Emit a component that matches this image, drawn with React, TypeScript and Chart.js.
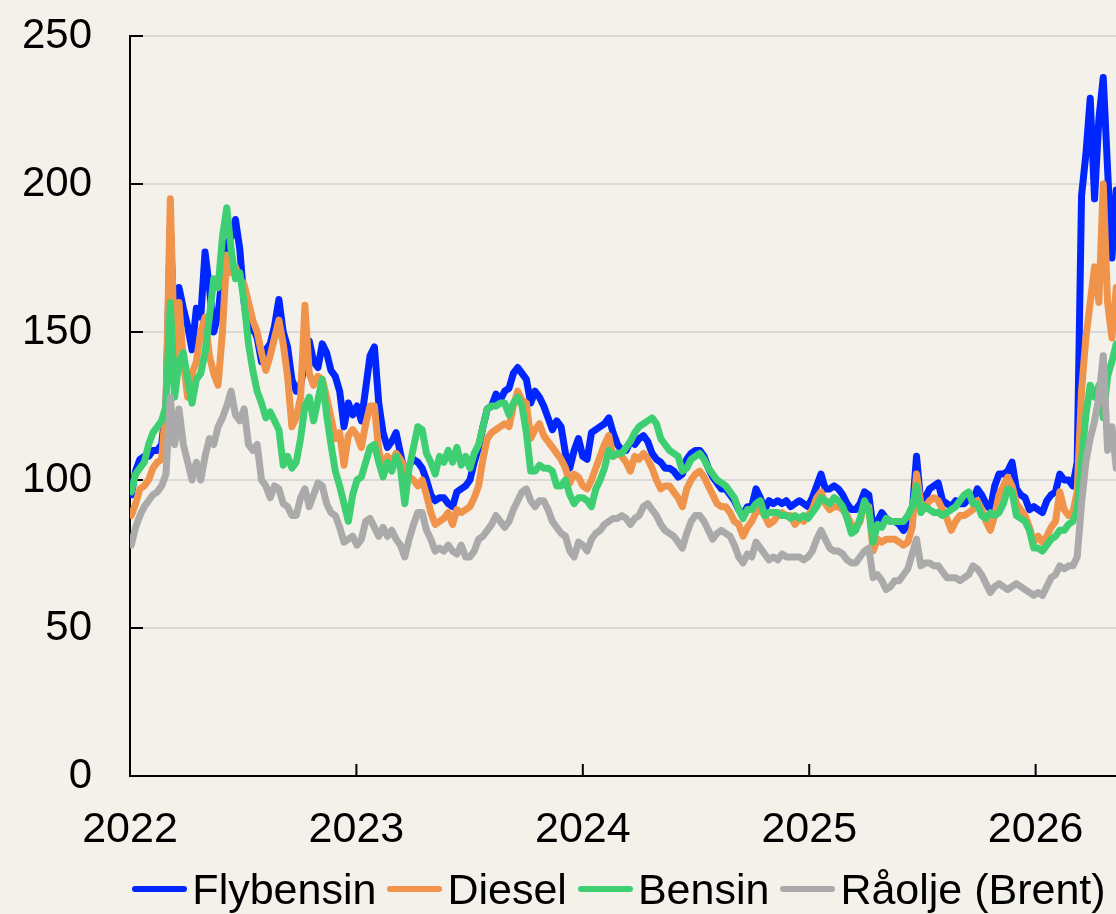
import React, { useEffect, useRef } from "react";
import { Chart, registerables } from "chart.js";

Chart.register(...registerables);

// Weekly observations, first week starting 2022-01-03
const startDate = "2022-01-03";
const yearTicks = [2022, 2023, 2024, 2025, 2026];
const yTicks = [0, 50, 100, 150, 200, 250];
const xMin = 2022;
const xMax = 2026.355;
const seriesNames = ["Flybensin", "Diesel", "Bensin", "Råolje (Brent)"];
const seriesColors = ["#0026ff", "#f0934b", "#3ecf72", "#aaaaaa"];

const flybensin = [
  95, 103, 107, 108, 108, 110, 110, 112, 125, 185,
  148, 165, 158, 152, 144, 158, 155, 177, 165, 150,
  156, 170, 180, 182, 188, 178, 160, 150, 152, 148,
  140, 144, 146, 152, 161, 150, 145, 134, 130, 132,
  140, 147, 140, 138, 146, 143, 137, 135, 130, 118,
  126, 122, 125, 120, 131, 142, 145, 126, 116, 111,
  113, 116, 109, 102, 105, 107, 106, 104, 100, 95,
  93, 94, 94, 92, 91, 96, 97, 98, 100, 106,
  111, 118, 124, 125, 129, 127, 130, 131, 136, 138,
  136, 134, 126, 130, 128, 125, 121, 117, 120, 118,
  109, 104, 110, 114, 108, 107, 116, 117, 118, 119,
  121, 116, 112, 110, 110, 113, 112, 114, 115, 113,
  109, 107, 106, 104, 104, 103, 101, 102, 107, 109,
  110, 110, 108, 104, 101, 99, 97, 97, 95, 93,
  90, 88, 91, 91, 97, 94, 90, 93, 92, 93,
  92, 93, 91, 92, 93, 92, 91, 94, 98, 102,
  97, 97, 98, 97, 95, 92, 90, 90, 92, 96,
  95, 84, 86, 89, 87, 86, 86, 85, 83, 85,
  89, 108, 92, 94, 97, 98, 99, 93, 92, 91,
  93, 92, 92, 94, 93, 97, 95, 92, 90, 98,
  102, 102, 103, 106, 97, 95, 94, 90, 91, 90,
  89, 93, 95, 96, 102, 100, 100, 98, 106, 196,
  210, 229, 195, 222, 236, 205, 175, 198,
];

const diesel = [
  88, 92, 97, 98, 100, 104, 106, 107, 126, 195,
  140, 160, 140, 128, 136, 140, 150, 155, 142, 136,
  132, 150, 176, 170, 172, 168, 166, 160, 154, 150,
  143, 137, 142, 148, 154, 146, 135, 118, 121, 128,
  159, 136, 132, 135, 134, 128, 121, 114, 116, 105,
  115, 117, 115, 111, 119, 125, 125, 110, 104, 108,
  106, 109, 107, 104, 101, 100, 98, 100, 95, 89,
  85, 86, 87, 89, 85, 90, 89, 90, 91, 94,
  98, 107, 114, 116, 117, 118, 119, 118, 125, 130,
  127, 126, 114, 117, 119, 115, 113, 111, 109, 107,
  104, 99, 102, 101, 98, 97, 100, 104, 108, 112,
  115, 108, 109, 108, 106, 103, 108, 107, 109, 107,
  104, 100, 97, 98, 98, 96, 94, 91, 97, 100,
  102, 103, 101, 98, 95, 92, 91, 91, 89, 86,
  85, 81, 84, 86, 89, 90, 88, 85, 86, 88,
  89, 88, 88, 85, 87, 86, 88, 90, 94, 96,
  92, 90, 91, 91, 90, 88, 85, 84, 86, 92,
  91, 76, 80, 79, 80, 80, 80, 79, 78, 79,
  84, 102, 92, 91, 93, 94, 93, 90, 87, 83,
  86, 88, 88, 89, 90, 93, 90, 86, 83, 88,
  95, 98, 101, 98, 92, 90, 88, 84, 79, 81,
  79, 81, 84, 86, 96, 90, 88, 89, 96, 130,
  148, 160, 172, 160, 200, 160, 148, 165,
];

const bensin = [
  96, 102, 104, 106, 112, 116, 118, 120, 125, 160,
  128, 140, 143, 134, 126, 134, 136, 143, 155, 168,
  165, 182, 192, 178, 168, 170, 160, 146, 137, 130,
  126, 121, 123, 120, 117, 105, 108, 104, 106, 114,
  125, 128, 120, 127, 134, 122, 112, 103, 98, 92,
  86, 95, 100, 101, 106, 111, 112, 106, 101, 106,
  103, 108, 104, 92, 104, 111, 118, 117, 109, 106,
  102, 108, 106, 110, 106, 111, 105, 108, 104, 109,
  112, 118, 124, 125, 125, 126, 126, 122, 126, 128,
  125, 116, 103, 103, 105, 104, 104, 103, 98, 98,
  100, 95, 92, 94, 94, 93, 91, 97, 100, 104,
  110, 108, 109, 109, 111, 113, 116, 118, 119, 120,
  121, 119, 114, 112, 110, 109, 108, 103, 104, 107,
  108, 109, 107, 104, 102, 100, 99, 98, 96, 94,
  90, 87, 90, 90, 92, 93, 88, 89, 89, 89,
  88, 88, 87, 88, 87, 88, 87, 89, 91, 94,
  93, 92, 94, 93, 91, 87, 82, 83, 87, 93,
  90, 79, 85, 84, 87, 86, 86, 86, 86, 88,
  91, 98, 89, 91, 90, 89, 89, 88, 89, 90,
  91, 93, 95, 96, 92, 92, 88, 87, 89, 88,
  89, 92, 97, 96, 88, 87, 86, 83, 77, 77,
  76, 78, 80, 81, 83, 83, 85, 86, 90, 106,
  122, 132, 128, 132, 121, 135, 140, 146,
];

const raolje = [
  78, 84, 88, 91, 93, 95, 96, 98, 102, 128,
  112, 124, 112, 106, 100, 106, 100, 108, 114, 112,
  118, 121, 125, 130, 122, 120, 124, 112, 110, 112,
  100, 98, 94, 98, 97, 92, 91, 88, 88, 94,
  97, 91, 95, 99, 98, 92, 89, 88, 84, 79,
  80, 81, 78, 80, 86, 87, 84, 81, 84, 81,
  83, 80, 78, 74, 80, 85, 89, 89, 83, 80,
  76, 77, 76, 78, 76, 75, 78, 74, 74, 76,
  80, 81, 83, 85, 88, 86, 84, 86, 90, 93,
  96, 97, 93, 91, 93, 93, 90, 86, 84, 82,
  81, 76, 74, 79, 78, 76, 80, 82, 83, 85,
  86, 87, 87, 88, 87, 85, 87, 88, 91, 92,
  90, 88, 85, 83, 82, 81, 79, 77, 82, 86,
  88, 88, 86, 83, 80, 82, 83, 82, 81, 78,
  74, 72, 75, 74, 79, 77, 75, 73, 74, 73,
  75, 74, 74, 74, 74, 73, 74, 76, 80, 83,
  80, 77, 76, 76, 75, 73, 72, 72, 74, 76,
  77, 67, 68, 66, 63, 64, 66, 66, 68, 70,
  75, 80, 71, 72, 72, 71, 71, 69, 67, 67,
  67, 66, 67, 68, 71, 70, 68, 65, 62, 64,
  65, 64, 63, 64, 65, 64, 63, 62, 61, 62,
  61, 64, 67, 68, 71, 70, 71, 71, 74, 92,
  106, 114, 120, 128, 142, 110, 118, 104,
];

const seriesValues = [flybensin, diesel, bensin, raolje];

function toDecimalYear(d: Date): number {
  const y = d.getUTCFullYear();
  const s = Date.UTC(y, 0, 1);
  const e = Date.UTC(y + 1, 0, 1);
  return y + (d.getTime() - s) / (e - s);
}

const weekPositions = flybensin.map((_, i) => {
  const d = new Date(startDate + "T00:00:00Z");
  d.setUTCDate(d.getUTCDate() + 7 * i);
  return toDecimalYear(d);
});

const FONT = "'Liberation Sans', Arial, sans-serif";
const BG = "#f4f1eb";
const LINE_W = 7;

const tickMarks = {
  id: "tickMarks",
  beforeDatasetsDraw(chart: any) {
    const { ctx, chartArea, scales } = chart;
    ctx.save();
    ctx.strokeStyle = "#000";
    ctx.lineWidth = 2;
    for (const v of yTicks) {
      const y = scales.y.getPixelForValue(v);
      ctx.beginPath();
      ctx.moveTo(chartArea.left, y);
      ctx.lineTo(chartArea.left + 13, y);
      ctx.stroke();
    }
    for (const v of yearTicks) {
      const x = scales.x.getPixelForValue(v);
      ctx.beginPath();
      ctx.moveTo(x, chartArea.bottom);
      ctx.lineTo(x, chartArea.bottom - 12);
      ctx.stroke();
    }
    ctx.restore();
  },
};

export default function App() {
  const canvasRef = useRef<HTMLCanvasElement | null>(null);

  useEffect(() => {
    document.body.style.margin = "0";
    document.body.style.background = BG;
    const canvas = canvasRef.current;
    if (!canvas) return;
    const chart = new Chart(canvas, {
      type: "line",
      data: {
        datasets: seriesValues.map((vals, k) => ({
          label: seriesNames[k],
          data: vals.map((v, i) => ({ x: weekPositions[i], y: v })),
          borderColor: seriesColors[k],
          backgroundColor: seriesColors[k],
          borderWidth: LINE_W,
          pointRadius: 0,
          tension: 0,
          borderJoinStyle: "round" as const,
          borderCapStyle: "round" as const,
          order: seriesValues.length - 1 - k,
        })),
      },
      options: {
        animation: false,
        responsive: false,
        maintainAspectRatio: false,
        elements: { line: { borderWidth: LINE_W } },
        layout: { padding: { top: 36, right: 0, bottom: 0, left: 0 } },
        plugins: {
          legend: { display: false },
          tooltip: { enabled: false },
        },
        scales: {
          x: {
            type: "linear",
            min: xMin,
            max: xMax,
            afterFit: (scale: any) => {
              scale.height = 138;
              scale.paddingLeft = 0;
              scale.paddingRight = 0;
            },
            afterBuildTicks: (scale: any) => {
              scale.ticks = yearTicks.map((v) => ({ value: v }));
            },
            ticks: {
              includeBounds: false,
              autoSkip: false,
              maxRotation: 0,
              padding: 28,
              color: "#000",
              font: { family: FONT, size: 43 },
              callback: (v: any) => String(v),
            },
            grid: { display: false, drawTicks: false },
            border: { display: true, color: "#000", width: 2 },
          },
          y: {
            min: 0,
            max: 250,
            afterFit: (scale: any) => {
              scale.width = 130;
              scale.paddingTop = 0;
              scale.paddingBottom = 0;
            },
            afterBuildTicks: (scale: any) => {
              scale.ticks = yTicks.map((v) => ({ value: v }));
            },
            ticks: {
              padding: 38,
              color: "#000",
              font: { family: FONT, size: 42 },
            },
            grid: { color: "#d9d9d9", lineWidth: 2, drawTicks: false },
            border: { display: true, color: "#000", width: 2 },
          },
        },
      },
      plugins: [tickMarks],
    });
    return () => chart.destroy();
  }, []);

  return (
    <div style={{ position: "relative", width: 1116, height: 914, background: BG, overflow: "hidden" }}>
      <canvas ref={canvasRef} width={1116} height={914} style={{ position: "absolute", left: 0, top: 0, width: 1116, height: 914 }} />
      <div
        style={{
          position: "absolute",
          left: 126,
          top: 868,
          width: 986,
          height: 42,
          display: "flex",
          justifyContent: "center",
          alignItems: "center",
          gap: 11,
          fontFamily: FONT,
          fontSize: 43,
          lineHeight: "42px",
          color: "#000",
          whiteSpace: "nowrap",
        }}
      >
        {seriesNames.map((name, k) => (
          <div key={name} style={{ display: "flex", alignItems: "center" }}>
            <div style={{ width: 55, height: 6, borderRadius: 3, background: seriesColors[k], marginRight: 5 }} />
            <span>{name}</span>
          </div>
        ))}
      </div>
    </div>
  );
}
